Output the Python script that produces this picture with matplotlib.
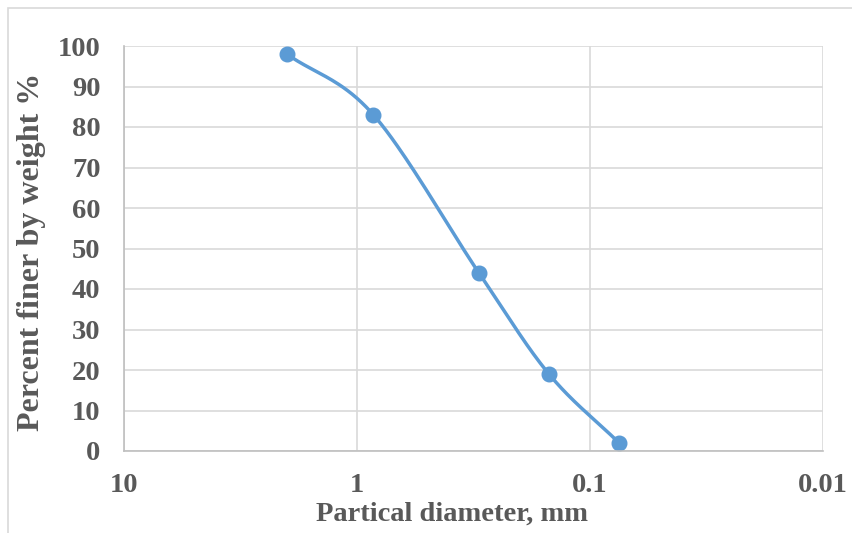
import numpy as np
import matplotlib
matplotlib.use("Agg")
import matplotlib.pyplot as plt
from matplotlib.patches import Rectangle

# sieve analysis data
diameter = [2.0, 0.85, 0.3, 0.15, 0.075]
finer = [98, 83, 44, 19, 2]

y_ticks = list(range(0, 101, 10))
x_ticks = [10, 1, 0.1, 0.01]
x_labels = ["10", "1", "0.1", "0.01"]

blue = "#5B9BD5"
gray_text = "#595959"


def smooth(xs, ys, n=40):
    # catmull-rom curve through the points, done in log10(x) so it looks like excel's smoothed line
    lx = np.log10(xs)
    ys = np.asarray(ys, dtype=float)
    px = np.concatenate([[2 * lx[0] - lx[1]], lx, [2 * lx[-1] - lx[-2]]])
    py = np.concatenate([[2 * ys[0] - ys[1]], ys, [2 * ys[-1] - ys[-2]]])
    outx, outy = [], []
    t = np.linspace(0, 1, n)
    for i in range(1, len(px) - 2):
        for arr, out in ((px, outx), (py, outy)):
            p0, p1, p2, p3 = arr[i - 1], arr[i], arr[i + 1], arr[i + 2]
            seg = 0.5 * ((2 * p1) + (-p0 + p2) * t + (2 * p0 - 5 * p1 + 4 * p2 - p3) * t ** 2
                         + (-p0 + 3 * p1 - 3 * p2 + p3) * t ** 3)
            out.extend(seg)
    return 10 ** np.array(outx), np.array(outy)


plt.rcParams['font.family'] = ['Liberation Serif', 'DejaVu Serif']
plt.rcParams['font.weight'] = 'bold'

fig = plt.figure(figsize=(8.53, 5.33), dpi=100)
fig.patches.append(Rectangle((8 / 853, -0.1), 1.1, (533 - 8) / 533 + 0.1, transform=fig.transFigure,
                             fill=False, edgecolor="#D9D9D9", linewidth=1.2))
ax = fig.add_axes([124 / 853, 82 / 533, 699 / 853, 405 / 533])

ax.set_xscale("log")
ax.set_xlim(10, 0.01)
ax.set_ylim(0, 100)
ax.set_xticks(x_ticks)
ax.set_xticklabels(x_labels)
ax.set_yticks(y_ticks)
ax.xaxis.set_minor_locator(plt.NullLocator())
ax.grid(True, color="#D9D9D9", linewidth=1.2)
ax.set_axisbelow(True)

for side in ["top", "right"]:
    ax.spines[side].set_visible(False)
ax.spines["left"].set_color("#BFBFBF")
ax.spines["bottom"].set_color("#BFBFBF")
ax.spines["left"].set_linewidth(1.2)
ax.spines["bottom"].set_linewidth(1.2)
ax.tick_params(length=0, labelsize=20.5, colors=gray_text)
ax.tick_params(axis="y", pad=17)
ax.tick_params(axis="x", pad=16)

sx, sy = smooth(diameter, finer)
ax.plot(sx, sy, color=blue, linewidth=2.5, solid_capstyle="round", clip_on=False)
ax.plot(diameter, finer, "o", color=blue, markersize=10.5, clip_on=False)

# axis titles placed like the excel chart (x title is centred on the chart area, not the plot)
fig.text(452 / 853, 1 - 514 / 533, "Partical diameter, mm", fontsize=20.5, color=gray_text,
         ha="center", va="center", fontweight="bold")
fig.text(32 / 853, 1 - 252 / 533, "Percent finer by weight %", fontsize=23, color=gray_text,
         ha="center", va="center", rotation=90, fontweight="bold")

fig.savefig("out.png", dpi=100)
